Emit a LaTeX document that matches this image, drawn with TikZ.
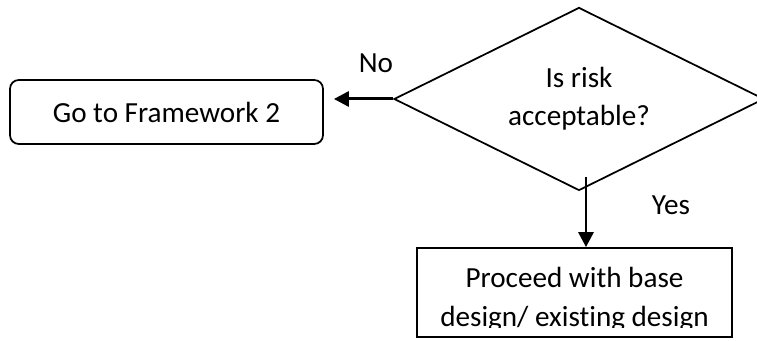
\documentclass[tikz,border=0pt]{standalone}
\usepackage{fontspec}
\setmainfont{Carlito}[Ligatures=NoCommon]
\usetikzlibrary{shapes.geometric, arrows.meta}

\begin{document}
\begin{tikzpicture}[
  decision/.style={diamond, draw, line width=1pt, aspect=2, inner sep=0pt, minimum width=7.4cm, minimum height=3.66cm, align=center},
  endbox/.style={rectangle, draw, line width=1pt, rounded corners=5pt, minimum width=6.26cm, minimum height=1.28cm},
  procbox/.style={rectangle, draw, line width=1pt, minimum width=6.3cm, minimum height=1.78cm},
  txt/.style={font=\fontsize{16.6}{21.8}\selectfont, align=center},
  arr/.style={-{Triangle[length=0.3cm, width=0.3cm]}, line width=1.7pt},
]
  \useasboundingbox (0, 0) rectangle (15.14, 6.82);

  % Decision and outcome boxes
  \node[decision, txt] (risk) at (11.58, 4.84) {Is risk\\acceptable?};
  \node[endbox, txt] (framework) at (3.33, 4.58) {Go to Framework 2};
  \node[procbox] (proceed) at (11.49, 0.97) {};
  \begin{scope}
    \clip (proceed.north west) rectangle ([yshift=0.2cm]proceed.south east);
    \node[txt] (proceedtxt) at (11.49, 0.83) {Proceed with base\\design/ existing design};
  \end{scope}

  % Arrows
  \draw[arr] (risk.west) -- ([xshift=0.2cm]risk.west -| framework.east);
  \coordinate (yesstart) at (11.72, 3.28);
  \draw[arr] (yesstart) -- (yesstart |- proceed.north);

  % Labels
  \node[txt] (nolbl) at (7.52, 5.56) {No};
  \node[txt] (yeslbl) at (13.42, 2.72) {Yes};
\end{tikzpicture}
\end{document}
